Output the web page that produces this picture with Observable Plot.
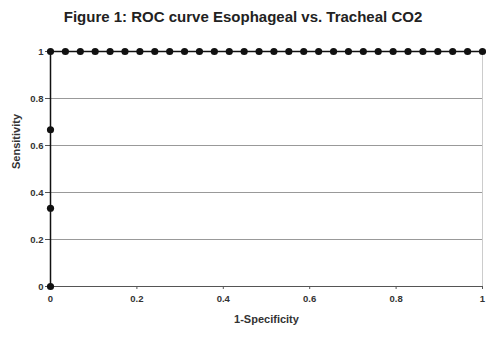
<!DOCTYPE html>
<html>
<head>
<meta charset="utf-8">
<script src="https://cdn.jsdelivr.net/npm/d3@7"></script>
<script src="https://cdn.jsdelivr.net/npm/@observablehq/plot@0.6"></script>
<style>
  body { margin: 0; background: #fff; font-family: "Liberation Sans", Arial, sans-serif; }
  #title { height: 30px; width: 486px; text-align: center; font-weight: bold; font-size: 15px; line-height: 34px; color: #222; }
</style>
</head>
<body>
<div id="title">Figure 1: ROC curve Esophageal vs. Tracheal CO2</div>
<div id="chart"></div>
<script>
const fpr = [0, 0, 0, 0,
  0.0345, 0.0690, 0.1034, 0.1379, 0.1724, 0.2069, 0.2414, 0.2759, 0.3103, 0.3448,
  0.3793, 0.4138, 0.4483, 0.4828, 0.5172, 0.5517, 0.5862, 0.6207, 0.6552, 0.6897,
  0.7241, 0.7586, 0.7931, 0.8276, 0.8621, 0.8966, 0.9310, 0.9655, 1];
const tpr = [0, 0.333, 0.667, 1,
  1, 1, 1, 1, 1, 1, 1, 1, 1, 1,
  1, 1, 1, 1, 1, 1, 1, 1, 1, 1,
  1, 1, 1, 1, 1, 1, 1, 1, 1];
const xTicks = [0, 0.2, 0.4, 0.6, 0.8, 1];
const yTicks = [0, 0.2, 0.4, 0.6, 0.8, 1];
const gridY = [0.2, 0.4, 0.6, 0.8, 1];

const data = fpr.map((x, i) => ({x, y: tpr[i]}));

const chart = Plot.plot({
  width: 486,
  height: 307,
  marginLeft: 50,
  marginRight: 4,
  marginTop: 21,
  marginBottom: 51,
  style: { fontFamily: "'Liberation Sans', Arial, sans-serif", fontSize: "9.5px", fontWeight: "bold", color: "#333", background: "#fff" },
  x: { domain: [0, 1], ticks: xTicks, tickFormat: d => String(d), label: null },
  y: { domain: [0, 1], ticks: yTicks, tickFormat: d => String(d), label: null },
  marks: [
    Plot.ruleY(gridY, { stroke: "#999", strokeWidth: 1 }),
    Plot.ruleX([1], { stroke: "#ccc", strokeWidth: 1 }),
    Plot.ruleY([0], { stroke: "#555", strokeWidth: 1 }),
    Plot.axisX({ ticks: xTicks, tickFormat: d => String(d), tickSize: 3, tickPadding: 6, label: null, stroke: "#555" }),
    Plot.axisY({ ticks: yTicks, tickFormat: d => String(d), tickSize: 5, tickPadding: 2, label: null, stroke: "#555" }),
    Plot.text(["1-Specificity"], { frameAnchor: "bottom", dy: 36, fontSize: 11, fontWeight: "bold", fill: "#333" }),
    Plot.text(["Sensitivity"], { frameAnchor: "left", dx: -34, rotate: -90, fontSize: 11, fontWeight: "bold", fill: "#333" }),
    Plot.line(data, { x: "x", y: "y", stroke: "#111", strokeWidth: 1.5 }),
    Plot.dot(data, { x: "x", y: "y", r: 3.6, fill: "#111", stroke: "none" })
  ]
});
document.getElementById("chart").append(chart);
</script>
</body>
</html>
